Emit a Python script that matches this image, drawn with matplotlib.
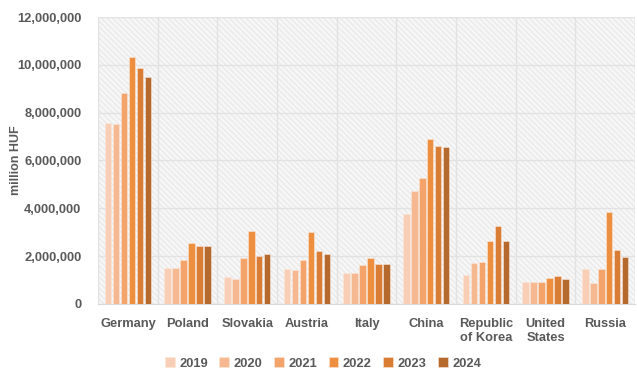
import matplotlib.pyplot as plt
import numpy as np
from matplotlib.patches import Rectangle
from matplotlib.ticker import FuncFormatter, MultipleLocator

countries = ['Germany', 'Poland', 'Slovakia', 'Austria', 'Italy', 'China',
             'Republic\nof Korea', 'United\nStates', 'Russia']
years = ['2019', '2020', '2021', '2022', '2023', '2024']
colors = ['#f8cfb6', '#f6b891', '#f4a36a', '#ee8f3f', '#d97c34', '#b5692c']

# million HUF, one list per year
v2019 = [7570000, 1490000, 1130000, 1440000, 1270000, 3750000, 1210000, 910000, 1450000]
v2020 = [7530000, 1500000, 1060000, 1430000, 1270000, 4710000, 1690000, 910000, 890000]
v2021 = [8840000, 1830000, 1910000, 1840000, 1630000, 5260000, 1770000, 920000, 1460000]
v2022 = [10320000, 2560000, 3050000, 3000000, 1910000, 6890000, 2640000, 1100000, 3860000]
v2023 = [9860000, 2440000, 2010000, 2220000, 1660000, 6610000, 3260000, 1170000, 2260000]
v2024 = [9500000, 2400000, 2090000, 2080000, 1670000, 6550000, 2640000, 1060000, 1980000]
series = [v2019, v2020, v2021, v2022, v2023, v2024]

plt.rcParams['font.family'] = ['Liberation Sans', 'DejaVu Sans']
plt.rcParams['font.weight'] = 'bold'
plt.rcParams['hatch.linewidth'] = 0.6
plt.rcParams['hatch.color'] = '#e4e4e4'
text_color = '#595959'

fig = plt.figure(figsize=(6.37, 3.71), dpi=100)
ax = fig.add_axes([0.154, 0.181, 0.843, 0.773])
ax.set_facecolor('#f6f6f6')
ax.add_patch(Rectangle((0, 0), 1, 1, transform=ax.transAxes, facecolor='none',
                       hatch='\\\\\\\\\\\\', linewidth=0, zorder=0))

x = np.arange(len(countries))
slot = 0.8 / len(years)
for j, (vals, c) in enumerate(zip(series, colors)):
    ax.bar(x + (j - 2.5) * slot, vals, width=slot * 0.82, color=c,
           edgecolor='#fbe6d8', linewidth=0.4, label=years[j], zorder=3)

ax.set_xlim(-0.5, len(countries) - 0.5)
ax.set_ylim(0, 12000000)
ax.yaxis.set_major_locator(MultipleLocator(2000000))
ax.yaxis.set_major_formatter(FuncFormatter(lambda v, p: f'{int(v):,}'))
ax.set_xticks(x)
ax.set_xticklabels(countries, fontsize=9.3, color=text_color, linespacing=1.3)
ax.set_xticks(np.arange(-0.5, len(countries)), minor=True)
ax.tick_params(axis='x', which='both', length=0, pad=10)
ax.tick_params(axis='y', length=0, pad=12, labelsize=9.3, labelcolor=text_color)
for lbl in ax.get_xticklabels() + ax.get_yticklabels():
    lbl.set_fontweight('bold')

ax.grid(axis='y', which='major', color='#e2e2e2', linewidth=1, zorder=1)
ax.grid(axis='x', which='minor', color='#e2e2e2', linewidth=1, zorder=1)
ax.grid(axis='x', which='major', visible=False)
for s in ['top', 'right', 'left']:
    ax.spines[s].set_visible(False)
ax.spines['bottom'].set_color('#d9d9d9')
ax.set_axisbelow(True)

ax.set_ylabel('million HUF', fontsize=9, color=text_color, fontweight='bold')
ax.yaxis.set_label_coords(-0.141, 0.5)

leg = fig.legend(loc='center', bbox_to_anchor=(0.507, 0.02), ncol=6, frameon=False,
                 fontsize=9.3, handlelength=0.75, handleheight=0.75, handletextpad=0.35,
                 columnspacing=0.9)
for t in leg.get_texts():
    t.set_color(text_color)
    t.set_fontweight('bold')

fig.savefig('out.png', dpi=100)
